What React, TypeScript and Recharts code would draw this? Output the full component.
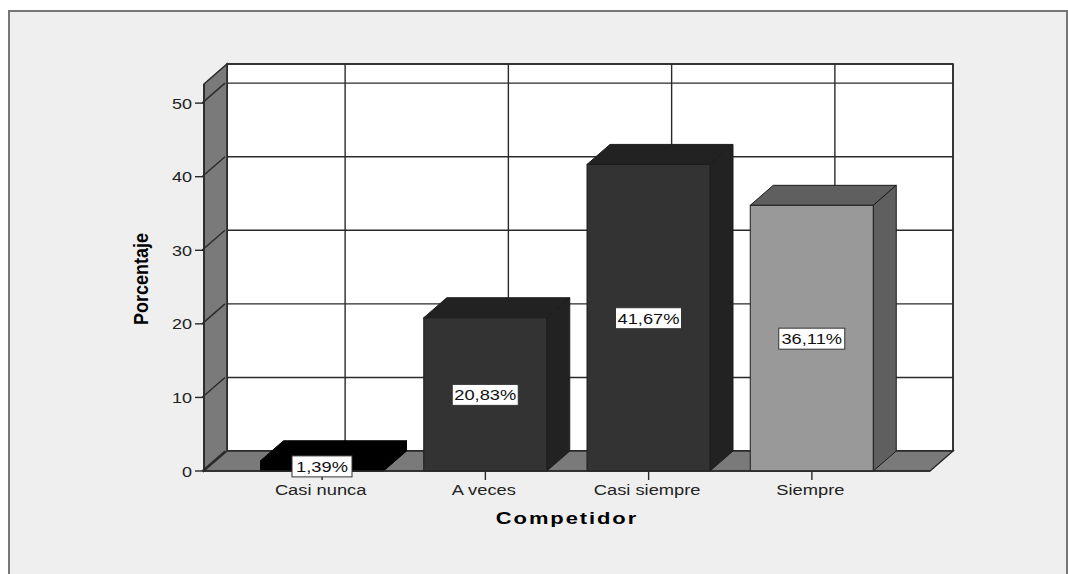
import React from 'react';
import { BarChart, Bar, XAxis, YAxis, CartesianGrid, LabelList, Customized, usePlotArea } from 'recharts';

const categories = ['Casi nunca', 'A veces', 'Casi siempre', 'Siempre'];
const values = [1.39, 20.83, 41.67, 36.11];
const yTicks = [0, 10, 20, 30, 40, 50];
const frontColors = ['#000000', '#333333', '#333333', '#999999'];
const depthColors = ['#000000', '#222222', '#222222', '#5f5f5f'];
const rows = categories.map((name, i) => ({ name, value: values[i] }));

const DX = 23;
const DY = 20;
const WALL = '#7a7a7a';
const LINE = '#2a2a2a';
const FONT = '"Liberation Sans", Arial, sans-serif';

function Walls() {
  const p = usePlotArea();
  if (!p) return null;
  const { x, y, width: w, height: h } = p;
  const b = y + h;
  return (
    <g>
      <rect x={x + DX} y={y - DY} width={w} height={h} fill="none" stroke={LINE} strokeWidth={1.6} />
      <polygon points={`${x},${y} ${x + DX},${y - DY} ${x + DX},${b - DY} ${x},${b}`} fill={WALL} stroke={LINE} strokeWidth={1.6} />
      <polygon points={`${x},${b} ${x + DX},${b - DY} ${x + w + DX},${b - DY} ${x + w},${b}`} fill={WALL} stroke={LINE} strokeWidth={1.4} />
    </g>
  );
}

function gridH(p: any) {
  return <line key={p.key ?? p.index} x1={p.x1} y1={p.y1 - DY} x2={p.x2} y2={p.y2 - DY} stroke={LINE} strokeWidth={1.4} />;
}

function gridV(p: any) {
  return <line key={p.key ?? p.index} x1={p.x1 + DX} y1={p.y1} x2={p.x2 + DX} y2={p.y2} stroke={LINE} strokeWidth={1.4} />;
}

function Bar3D(props: any) {
  const { x, y, width: w, height: h, index } = props;
  const front = frontColors[index];
  const depth = depthColors[index];
  return (
    <g stroke={index === 0 ? '#000' : '#1c1c1c'} strokeWidth={1}>
      <polygon points={`${x},${y} ${x + DX},${y - DY} ${x + w + DX},${y - DY} ${x + w},${y}`} fill={depth} />
      <polygon points={`${x + w},${y} ${x + w + DX},${y - DY} ${x + w + DX},${y + h - DY} ${x + w},${y + h}`} fill={depth} />
      <rect x={x} y={y} width={w} height={h} fill={front} />
    </g>
  );
}

function BarTag(props: any) {
  const { x, y, width: w, height: h, value } = props;
  const text = Number(value).toFixed(2).replace('.', ',') + '%';
  const cx = x + w / 2;
  const cy = y + h / 2;
  const boxW = text.length > 5 ? 66 : 60;
  return (
    <g>
      <rect x={cx - boxW / 2} y={cy - 10} width={boxW} height={21} fill="#fff" stroke="#333" strokeWidth={1} />
      <g transform={`translate(${cx},${cy + 6}) scale(1.22,1)`}>
        <text textAnchor="middle" fontSize={15} fontFamily={FONT} fill="#111">{text}</text>
      </g>
    </g>
  );
}

function XTick(props: any) {
  const { x, y, payload } = props;
  return (
    <g transform={`translate(${x - 1.5},${y + 13}) scale(1.22,1)`}>
      <text textAnchor="middle" fontSize={15} fontFamily={FONT} fill="#222">{payload.value}</text>
    </g>
  );
}

function YTick(props: any) {
  const { x, y, payload } = props;
  return (
    <g>
      <line x1={x + 9} y1={y} x2={x + 9 + DX} y2={y - DY} stroke={LINE} strokeWidth={1.4} />
      <g transform={`translate(${x - 1},${y + 5.5}) scale(1.2,1)`}>
        <text textAnchor="end" fontSize={15} fontFamily={FONT} fill="#222">{payload.value}</text>
      </g>
    </g>
  );
}

export default function App() {
  return (
    <div style={{ position: 'absolute', left: 0, top: 0, width: 1068, height: 574, overflow: 'hidden', background: '#fff' }}>
      <div style={{ position: 'absolute', left: 8, top: 10, width: 1056, height: 600, background: '#efefef', border: '2px solid #777' }} />
      <div style={{ position: 'absolute', left: 0, top: 0 }}>
        <BarChart width={1068} height={574} data={rows} margin={{ top: 84, right: 138, bottom: 0, left: 0 }} barSize={123}>
          <CartesianGrid x={227} y={64} width={726} height={387} fill="#fff" fillOpacity={1} horizontal={gridH} vertical={gridV} />
          <Customized component={Walls} />
          <XAxis
            dataKey="name"
            padding={{ left: 36.5, right: 36.5 }}
            tick={<XTick />}
            tickSize={9}
            tickLine={{ stroke: LINE, strokeWidth: 1.4 }}
            axisLine={{ stroke: LINE, strokeWidth: 1.6 }}
            interval={0}
            height={103}
          />
          <YAxis
            domain={[0, 52.6]}
            ticks={yTicks}
            tick={<YTick />}
            tickSize={9}
            tickLine={{ stroke: LINE, strokeWidth: 1.4 }}
            axisLine={{ stroke: LINE, strokeWidth: 1.6 }}
            width={204}
          />
          <Bar dataKey="value" shape={<Bar3D />} isAnimationActive={false}>
            <LabelList dataKey="value" content={<BarTag />} />
          </Bar>
          <text transform="translate(148,279) rotate(-90) scale(1,1.15)" textAnchor="middle" fontSize={18} fontWeight="bold" fontFamily={FONT} fill="#000">Porcentaje</text>
          <text transform="translate(567,524) scale(1.29,1)" textAnchor="middle" fontSize={17} fontWeight="bold" letterSpacing={1.5} fontFamily={FONT} fill="#000">Competidor</text>
        </BarChart>
      </div>
    </div>
  );
}
